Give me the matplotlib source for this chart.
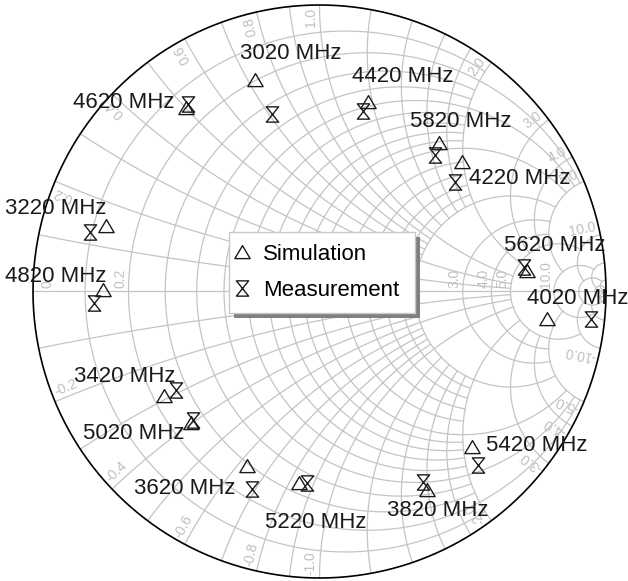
import matplotlib
matplotlib.use('agg')
import matplotlib.pyplot as plt
import numpy as np
from matplotlib.path import Path
from matplotlib.patches import Rectangle
from matplotlib.transforms import IdentityTransform

plt.rcParams['font.family'] = ['Liberation Sans', 'DejaVu Sans']

# frequencies (MHz) and reflection coefficient
freqs = [3020, 3220, 3420, 3620, 3820, 4020, 4220, 4420,
         4620, 4820, 5020, 5220, 5420, 5620, 5820]
sim_re = [-0.225, -0.745, -0.543, -0.253, 0.375, 0.794, 0.497, 0.169,
          -0.466, -0.756, -0.449, -0.072, 0.532, 0.724, 0.417]
sim_im = [0.738, 0.229, -0.365, -0.609, -0.693, -0.096, 0.452, 0.661,
          0.640, 0.005, -0.459, -0.668, -0.543, 0.072, 0.518]
meas_re = [-0.166, -0.801, -0.501, -0.236, 0.361, 0.948, 0.473, 0.152,
           -0.459, -0.787, -0.442, -0.044, 0.553, 0.714, 0.403]
meas_im = [0.620, 0.208, -0.344, -0.689, -0.665, -0.096, 0.382, 0.630,
           0.654, -0.040, -0.449, -0.668, -0.606, 0.086, 0.476]

# where each frequency label sits (left edge, vertical centre)
label_xy = {
    3020: (-0.277, 0.829), 3220: (-1.098, 0.291), 3420: (-0.857, -0.298),
    3620: (-0.647, -0.689), 3820: (0.236, -0.766), 4020: (0.724, -0.023),
    4220: (0.522, 0.396), 4420: (0.113, 0.752), 4620: (-0.860, 0.661),
    4820: (-1.098, 0.054), 5020: (-0.825, -0.497), 5220: (-0.190, -0.808),
    5420: (0.581, -0.536), 5620: (0.644, 0.162), 5820: (0.316, 0.595),
}

# smith grid: value -> how far the line runs
grid_levels = {}
for v in [0.1, 0.3, 0.4, 0.6, 0.7, 0.8, 0.9, 1.2, 1.4, 1.6, 1.8]:
    grid_levels[v] = 2.0
for v in [0.2, 0.5, 1.0, 2.0, 3.0, 4.0]:
    grid_levels[v] = 5.0
grid_levels[5.0] = 10.0
grid_levels[10.0] = 20.0
grid_levels[20.0] = 50.0
grid_levels[50.0] = np.inf

# 1.0 and 2.0 sit under the legend box, so they are left out
r_labels = [0, 0.2, 3.0, 4.0, 5.0, 10.0]
x_labels = [0.2, 0.4, 0.6, 0.8, 1.0, 2.0, 3.0, 4.0, 5.0, 10.0]

GRID = '#c4c4c4'
LABEL = '#c0c0c0'
INK = '#1a1a1a'


def gamma(z):
    return (z - 1) / (z + 1)


def draw_grid(ax):
    for v, lim in grid_levels.items():
        ulim = np.arctan(lim) if np.isfinite(lim) else np.pi / 2 - 1e-5
        # constant resistance
        u = np.linspace(-ulim, ulim, 1500)
        g = gamma(v + 1j * np.tan(u))
        ax.plot(g.real, g.imag, color=GRID, lw=0.9, zorder=1)
        # constant reactance (both signs)
        u = np.linspace(0, ulim, 1500)
        for s in (1, -1):
            g = gamma(np.tan(u) + 1j * s * v)
            ax.plot(g.real, g.imag, color=GRID, lw=0.9, zorder=1)
    ax.plot([-1, 1], [0, 0], color=GRID, lw=0.9, zorder=1)
    t = np.linspace(0, 2 * np.pi, 800)
    ax.plot(np.cos(t), np.sin(t), color='black', lw=1.2, zorder=2)


def draw_grid_labels(ax):
    px = 1 / 286.5
    for r in r_labels:
        g = (r - 1) / (r + 1)
        if r == 0:
            ax.text(g + 7 * px, 3 * px, '0', rotation=90,
                    rotation_mode='anchor', ha='left', va='top',
                    fontsize=10, color=LABEL, zorder=2)
            continue
        ax.text(g - 1 * px, 3 * px, '%.1f' % r, rotation=90,
                rotation_mode='anchor', ha='left', va='bottom',
                fontsize=10, color=LABEL, zorder=2)
    for x in x_labels:
        for s in (1, -1):
            phi = s * (np.pi - 2 * np.arctan(x))
            rad = 1 - 3 * px
            # small step off the arc towards the text side
            tang = np.array([-np.sin(phi), np.cos(phi)])
            p = rad * np.array([np.cos(phi), np.sin(phi)])
            if s > 0:
                p = p + 2 * px * tang
                ax.text(p[0], p[1], '%.1f' % x, rotation=np.degrees(phi),
                        rotation_mode='anchor', ha='right', va='bottom',
                        fontsize=10, color=LABEL, zorder=2)
            else:
                p = p - 2 * px * tang
                ax.text(p[0], p[1], '-%.1f' % x,
                        rotation=np.degrees(phi) + 180,
                        rotation_mode='anchor', ha='left', va='bottom',
                        fontsize=10, color=LABEL, zorder=2)


tri = Path([(-1, -0.8), (1, -0.8), (0, 0.9), (-1, -0.8)],
           [Path.MOVETO, Path.LINETO, Path.LINETO, Path.CLOSEPOLY])
hourglass = Path([(-0.8, 1), (0.8, 1), (-0.8, -1), (0.8, -1), (-0.8, 1)],
                 [Path.MOVETO, Path.LINETO, Path.LINETO, Path.LINETO,
                  Path.CLOSEPOLY])

fig = plt.figure(figsize=(6.28, 5.81), dpi=100)
ax = fig.add_axes([0, 0, 1, 1])
ax.set_xlim((0 - 319.5) / 286.5, (628 - 319.5) / 286.5)
ax.set_ylim((291.5 - 581) / 286.5, 291.5 / 286.5)
ax.set_aspect('equal')
ax.axis('off')

draw_grid(ax)
draw_grid_labels(ax)

ax.plot(sim_re, sim_im, ls='none', marker=tri, ms=11, mfc='none',
        mec=INK, mew=1.0, zorder=3, label='Simulation')
ax.plot(meas_re, meas_im, ls='none', marker=hourglass, ms=11, mfc='none',
        mec=INK, mew=1.0, zorder=3, label='Measurement')

for f in freqs:
    lx, ly = label_xy[f]
    ax.text(lx, ly, '%d MHz' % f, fontsize=16, color=INK, ha='left',
            va='center', zorder=4)

leg = ax.legend(loc='upper left', mode='expand',
                bbox_to_anchor=(229 / 628, 1 - 232 / 581 - 0.01, 186 / 628, 0.01),
                bbox_transform=fig.transFigure, borderaxespad=0,
                fontsize=16, borderpad=0.54, labelspacing=0.68,
                handlelength=0.1, handletextpad=0.89, fancybox=False,
                framealpha=1, edgecolor='#c8c8c8')
leg.get_frame().set_linewidth(1.0)
leg.set_zorder(5)

fig.canvas.draw()
bb = leg.get_frame().get_window_extent()
shadow = Rectangle((bb.x0 + 5, bb.y0 - 5), bb.width, bb.height,
                   transform=IdentityTransform(), facecolor='#808080',
                   edgecolor='none', zorder=4.9, clip_on=False)
ax.add_patch(shadow)

fig.savefig('out.png', dpi=100)
